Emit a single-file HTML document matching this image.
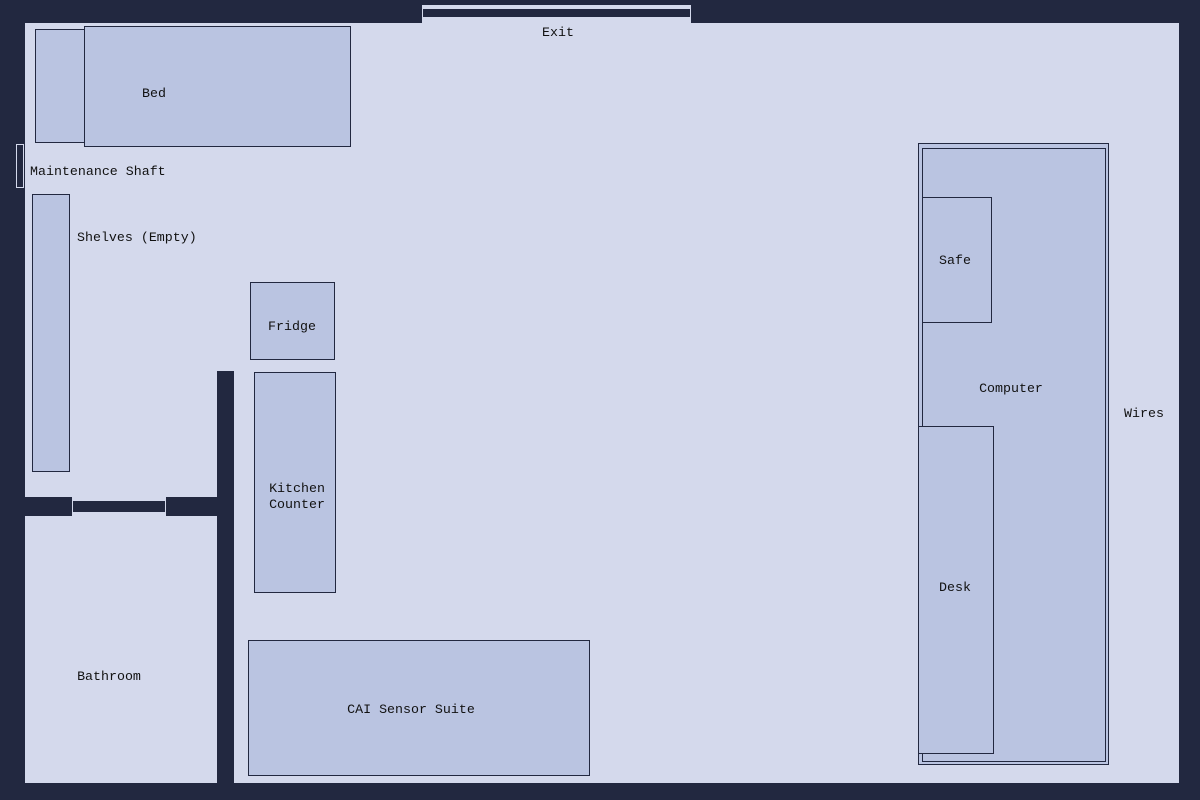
<!DOCTYPE html>
<html><head><meta charset="utf-8"><style>
html,body{margin:0;padding:0;background:#222840;}
svg{display:block}
text{font-family:"Liberation Mono",monospace;font-size:13.3px;fill:#111;}
</style></head><body>
<svg width="1200" height="800" xmlns="http://www.w3.org/2000/svg">
<rect x="0" y="0" width="1200" height="800" fill="#222840"/>
<rect x="25" y="23" width="1154" height="760" fill="#d4d9ec"/>
<rect x="422" y="5" width="269" height="18" fill="#d4d9ec"/>
<rect x="423" y="9" width="267" height="8" fill="#222840"/>
<text x="558" y="36" text-anchor="middle">Exit</text>
<g fill="#bac4e1" stroke="#222840" stroke-width="1">
<rect x="35.5" y="29.5" width="50" height="113"/>
<rect x="84.5" y="26.5" width="266" height="120"/>
<rect x="32.5" y="194.5" width="37" height="277"/>
<rect x="250.5" y="282.5" width="84" height="77"/>
<rect x="254.5" y="372.5" width="81" height="220"/>
<rect x="248.5" y="640.5" width="341" height="135"/>
<rect x="918.5" y="143.5" width="190" height="621"/>
<rect x="922.5" y="148.5" width="183" height="613"/>
<rect x="922.5" y="197.5" width="69" height="125"/>
<rect x="918.5" y="426.5" width="75" height="327"/>
</g>
<rect x="16.5" y="144.5" width="7" height="43" fill="none" stroke="#d4d9ec" stroke-width="1"/>
<rect x="25" y="497" width="47" height="19" fill="#222840"/>
<rect x="73" y="501" width="92" height="11" fill="#222840"/>
<rect x="166" y="497" width="52" height="19" fill="#222840"/>
<rect x="217" y="371" width="17" height="412" fill="#222840"/>
<text x="154" y="97" text-anchor="middle">Bed</text>
<text x="30" y="175">Maintenance Shaft</text>
<text x="77" y="241">Shelves (Empty)</text>
<text x="292" y="330" text-anchor="middle">Fridge</text>
<text x="297" y="492" text-anchor="middle">Kitchen</text>
<text x="297" y="508" text-anchor="middle">Counter</text>
<text x="109" y="680" text-anchor="middle">Bathroom</text>
<text x="411" y="713" text-anchor="middle">CAI Sensor Suite</text>
<text x="955" y="264" text-anchor="middle">Safe</text>
<text x="1011" y="392" text-anchor="middle">Computer</text>
<text x="955" y="591" text-anchor="middle">Desk</text>
<text x="1144" y="417" text-anchor="middle">Wires</text>
</svg>
</body></html>
